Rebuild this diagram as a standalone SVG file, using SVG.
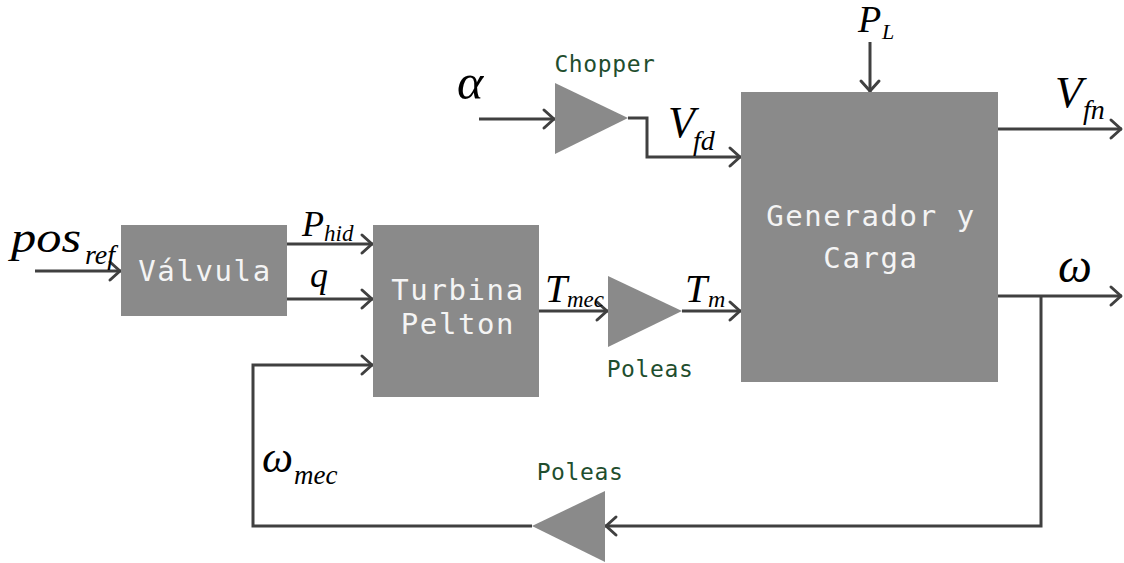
<svg xmlns="http://www.w3.org/2000/svg" width="1124" height="563" viewBox="0 0 1124 563">
<defs>
<marker id="arr" markerUnits="userSpaceOnUse" markerWidth="24" markerHeight="24" viewBox="0 0 24 24" refX="19" refY="12" orient="auto">
<path d="M8,3 L18,12 L8,21" fill="none" stroke="#404040" stroke-width="3" stroke-linecap="round" stroke-linejoin="round"/>
</marker>
<style>
.blk{fill:#8a8a8a}
.ln{fill:none;stroke:#404040;stroke-width:3}
.bt{font-family:"DejaVu Sans Mono","Liberation Mono",monospace;font-size:29px;fill:#f4f4f4;text-anchor:middle;letter-spacing:1.6px}
.gt{font-family:"DejaVu Sans Mono","Liberation Mono",monospace;font-size:23px;fill:#1f4e2e;text-anchor:middle;letter-spacing:0.6px}
.m{font-family:"Liberation Serif","Times New Roman",serif;font-style:italic;fill:#000}
</style>
</defs>
<rect width="1124" height="563" fill="#fff"/>

<g id="connectors">
<path class="ln" d="M35,271 H121" marker-end="url(#arr)"/>
<path class="ln" d="M287,244 H373" marker-end="url(#arr)"/>
<path class="ln" d="M287,299 H373" marker-end="url(#arr)"/>
<path class="ln" d="M539,311 H608" marker-end="url(#arr)"/>
<path class="ln" d="M682,311 H741" marker-end="url(#arr)"/>
<path class="ln" d="M479,119 H555" marker-end="url(#arr)"/>
<path class="ln" d="M628,118 H647 V157 H741" marker-end="url(#arr)"/>
<path class="ln" d="M870,42 V92" marker-end="url(#arr)"/>
<path class="ln" d="M998,129 H1122" marker-end="url(#arr)"/>
<path class="ln" d="M998,296 H1122" marker-end="url(#arr)"/>
<path class="ln" d="M1041,296 V526 H605" marker-end="url(#arr)"/>
<path class="ln" d="M532,526 H253 V365 H373" marker-end="url(#arr)"/>
</g>

<g id="valvula">
<rect class="blk" x="121" y="225" width="166" height="91"/>
<text class="bt" x="205" y="281">Válvula</text>
</g>

<g id="turbina">
<rect class="blk" x="373" y="225" width="166" height="172"/>
<text class="bt" x="458" y="300">Turbina</text>
<text class="bt" x="458" y="334">Pelton</text>
</g>

<g id="generador">
<rect class="blk" x="741" y="92" width="257" height="290"/>
<text class="bt" x="871" y="226">Generador y</text>
<text class="bt" x="871" y="268">Carga</text>
</g>

<g id="chopper">
<polygon class="blk" points="555,83 628,118 555,154"/>
<text class="gt" x="605" y="72">Chopper</text>
</g>

<g id="poleas1">
<polygon class="blk" points="608,276 682,311 608,347"/>
<text class="gt" x="650" y="377">Poleas</text>
</g>

<g id="poleas2">
<polygon class="blk" points="605,491 532,526 605,562"/>
<text class="gt" x="580" y="480">Poleas</text>
</g>

<g id="labels">
<text class="m" x="11" y="252" font-size="44" textLength="70" lengthAdjust="spacingAndGlyphs">pos</text>
<text class="m" x="85" y="264" font-size="28">ref</text>
<text class="m" x="302" y="236" font-size="36">P</text>
<text class="m" x="324" y="241" font-size="23">hid</text>
<text class="m" x="310" y="287" font-size="36">q</text>
<text class="m" x="457" y="99" font-size="50">α</text>
<text class="m" x="668" y="137" font-size="44">V</text>
<text class="m" x="693" y="150" font-size="28">fd</text>
<text class="m" x="545" y="302" font-size="40">T</text>
<text class="m" x="567" y="307" font-size="23">mec</text>
<text class="m" x="685" y="302" font-size="40">T</text>
<text class="m" x="708" y="307" font-size="24">m</text>
<text class="m" x="858" y="32" font-size="38">P</text>
<text class="m" x="882" y="39" font-size="22">L</text>
<text class="m" x="1055" y="107" font-size="45">V</text>
<text class="m" x="1083" y="119" font-size="28">fn</text>
<text class="m" x="1058" y="282" font-size="48">ω</text>
<text class="m" x="262" y="472" font-size="44">ω</text>
<text class="m" x="294" y="484" font-size="27">mec</text>
</g>
</svg>
